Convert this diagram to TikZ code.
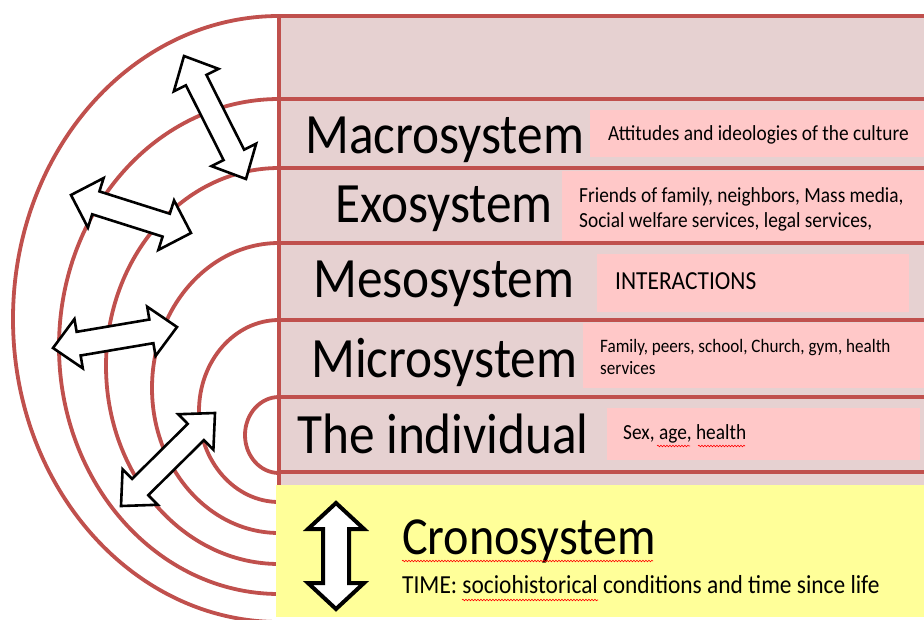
\documentclass[tikz,border=0pt]{standalone}
\usepackage{fontspec}
\setmainfont{Carlito}[FakeStretch=0.9]
\usetikzlibrary{calc,decorations.pathmorphing}
\definecolor{redline}{HTML}{C0504D}
\definecolor{bandfill}{RGB}{230,209,209}
\definecolor{boxfill}{RGB}{255,200,200}
\definecolor{yel}{RGB}{255,255,153}
\newcommand\blockarrow[6]{% #1 style, #2 A, #3 B, #4 head length, #5 head half width, #6 shaft half width
  \path ($(#2)!#4!(#3)$) coordinate (ha) ($(#3)!#4!(#2)$) coordinate (hb);
  \draw[#1] (#2) -- ($(ha)!#5!90:(#3)$) -- ($(ha)!#6!90:(#3)$) -- ($(hb)!#6!-90:(#2)$)
    -- ($(hb)!#5!-90:(#2)$) -- (#3) -- ($(hb)!#5!90:(#2)$) -- ($(hb)!#6!90:(#2)$)
    -- ($(ha)!#6!-90:(#3)$) -- ($(ha)!#5!-90:(#3)$) -- cycle;}
\begin{document}
\begin{tikzpicture}[x=1pt,y=-1pt,
  redl/.style={draw=redline,line width=3.8pt},
  tbox/.style={fill=boxfill},
  big/.style={anchor=base west,inner sep=0pt,font=\fontsize{57}{62}\selectfont},
  small/.style={anchor=base west,inner sep=0pt,font=\fontsize{21.5}{25}\selectfont},
  barrow/.style={draw=black,fill=white,line width=2.6pt,line join=miter},
  bigarrow/.style={draw=black,fill=white,line width=4pt,line join=miter},
  wavy/.style={draw=red,line width=0.6pt,decorate,decoration={snake,amplitude=0.8pt,segment length=3pt}}]
\useasboundingbox (0,0) rectangle (924,619);
% band area
\fill[bandfill] (279,16) rectangle (924,485);
% text boxes
\path[tbox] (590,110) rectangle (924,157);
\path[tbox] (562,171) rectangle (924,242);
\path[tbox] (597,254) rectangle (909,312);
\path[tbox] (583,323) rectangle (924,388);
\path[tbox] (607,408) rectangle (920,460);
% band separators
\foreach \yy in {16,99,168,243,320,397,472} \draw[redl] (279,\yy) -- (924,\yy);
\draw[redl] (279,16) -- (279,485);
% semi-ellipses
\draw[redl] (279,16)  arc[start angle=270,end angle=90,x radius=266,y radius=303];
\draw[redl] (279,99)  arc[start angle=270,end angle=90,x radius=220,y radius=247.5];
\draw[redl] (279,168) arc[start angle=270,end angle=90,x radius=173,y radius=198];
\draw[redl] (279,243) arc[start angle=270,end angle=90,x radius=127,y radius=145];
\draw[redl] (279,320) arc[start angle=270,end angle=90,x radius=80,y radius=91];
\draw[redl] (279,397) arc[start angle=270,end angle=90,x radius=34,y radius=38];
% chronosystem box
\fill[yel] (276,485) rectangle (924,617);
% arrows
\coordinate (a1s) at (184,56);  \coordinate (a1e) at (246,179);
\coordinate (a2s) at (71,195);  \coordinate (a2e) at (191,233);
\coordinate (a3s) at (53,348);  \coordinate (a3e) at (177,327);
\coordinate (a4s) at (121,506); \coordinate (a4e) at (215,413);
\coordinate (a5s) at (336,503); \coordinate (a5e) at (336,609);
\blockarrow{barrow}{a1s}{a1e}{27pt}{25pt}{11.5pt}
\blockarrow{barrow}{a2s}{a2e}{26pt}{26pt}{12pt}
\blockarrow{barrow}{a3s}{a3e}{26pt}{25pt}{12pt}
\blockarrow{barrow}{a4s}{a4e}{27pt}{25pt}{11.5pt}
\blockarrow{bigarrow}{a5s}{a5e}{26pt}{28pt}{13pt}
% labels
\node[big] (macro) at (305,153) {Macrosystem};
\node[big] (exo)   at (335,222) {Exosystem};
\node[big] (meso)  at (313,297) {Mesosystem};
\node[big] (micro) at (311,377) {Microsystem};
\node[big] (indiv) at (297,453) {The individual};
\node[small] (tmacro) at (608,140) {Attitudes and ideologies of the culture};
\node[small] (texo1) at (579,202) {Friends of family, neighbors, Mass media,};
\node[small] (texo2) at (579,227) {Social welfare services, legal services,};
\node[small,font=\fontsize{26}{30}\selectfont] (tmeso) at (615,289) {INTERACTIONS};
\node[small,font=\fontsize{19}{22}\selectfont] (tmicro1) at (600,352) {Family, peers, school, Church, gym, health};
\node[small,font=\fontsize{19}{22}\selectfont] (tmicro2) at (600,374) {services};
\node[small] (tindiv) at (623,439) {Sex, age, health};
\node[big,font=\fontsize{53.5}{58}\selectfont] (crono) at (402,554) {Cronosystem};
\node[small,font=\fontsize{26}{30}\selectfont] (time) at (402,593) {TIME: sociohistorical conditions and time since life};
% spell-check underlines
\draw[wavy] (657,446) -- (690,446);
\draw[wavy] (698,446) -- (745,446);
\draw[wavy] (402,561) -- (653,561);
\draw[wavy] (462,600) -- (598,600);
\end{tikzpicture}
\end{document}
